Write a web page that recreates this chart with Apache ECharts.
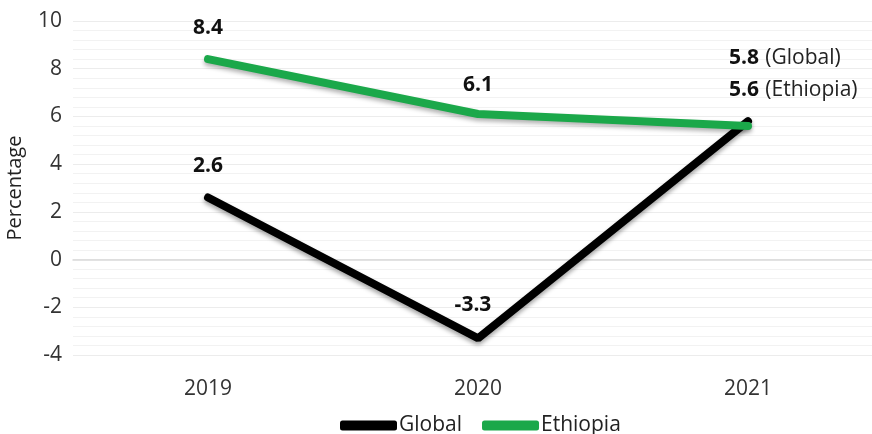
<!DOCTYPE html>
<html>
<head>
<meta charset="utf-8">
<script src="https://cdn.jsdelivr.net/npm/echarts@6/dist/echarts.min.js"></script>
<style>
  html, body { margin: 0; padding: 0; background: #fff; }
  #main { width: 872px; height: 434px; }
</style>
</head>
<body>
<div id="main"></div>
<script>
var years = ['2019', '2020', '2021'];
var globalVals = [2.6, -3.3, 5.8];
var ethiopiaVals = [8.4, 6.1, 5.6];

var myChart = echarts.init(document.getElementById('main'));
var font = 'Open Sans';

// the 2021 labels carry the series name too
function pointLabel(name) {
  return function (p) {
    if (p.dataIndex === years.length - 1) {
      return '{b|' + p.value + '} {n|(' + name + ')}';
    }
    return '{b|' + p.value + '}';
  };
}

var rich = {
  b: { fontFamily: font, fontSize: 21, fontWeight: 'bold', color: '#111' },
  n: { fontFamily: font, fontSize: 21, color: '#222', padding: [0, 0, 0, 3] }
};

var option = {
  grid: { left: 73, width: 810, top: 21, height: 334, outerBoundsMode: 'none' },
  legend: {
    left: 335,
    top: 410,
    itemGap: 20,
    itemWidth: 57,
    itemHeight: 10,
    textStyle: { fontFamily: font, fontSize: 21, color: '#222', padding: [0, 0, 0, -3] },
    data: [
      { name: 'Global', icon: 'roundRect', itemStyle: { color: '#000' } },
      { name: 'Ethiopia', icon: 'roundRect', itemStyle: { color: '#1ba84a' } }
    ]
  },
  xAxis: {
    type: 'category',
    data: years,
    axisLine: { onZero: true, lineStyle: { color: '#d9d9d9', width: 1.5 } },
    axisTick: { show: false },
    axisLabel: { fontFamily: font, fontSize: 21, color: '#333', margin: 24 },
    splitLine: { show: false }
  },
  yAxis: {
    type: 'value',
    min: -4, max: 10, interval: 2,
    name: 'Percentage',
    nameLocation: 'middle',
    nameGap: 48,
    nameTextStyle: { fontFamily: font, fontSize: 20, color: '#222' },
    axisLine: { show: false },
    axisTick: { show: false },
    axisLabel: { fontFamily: font, fontSize: 21, color: '#333', margin: 11 },
    splitLine: { lineStyle: { color: '#ececec', width: 1 } },
    minorTick: { show: false, splitNumber: 5 },
    minorSplitLine: { show: true, lineStyle: { color: '#f2f2f2', width: 1 } }
  },
  series: [{
    name: 'Global',
    type: 'line',
    data: globalVals,
    symbol: 'circle',
    symbolSize: 1,
    showSymbol: true,
    lineStyle: { color: '#000', width: 8, cap: 'round',
      shadowColor: 'rgba(0,0,0,0.35)', shadowBlur: 4, shadowOffsetY: 3 },
    itemStyle: { color: '#000' },
    z: 2,
    label: { show: true, position: 'top', formatter: pointLabel('Global'), rich: rich },
    labelLayout: function (p) {
      if (p.dataIndex === 2) return { x: 729, y: 58, align: 'left', verticalAlign: 'middle' };
      var x = p.rect.x + p.rect.width / 2;
      if (p.dataIndex === 1) return { x: x - 5, y: 305, align: 'center', verticalAlign: 'middle' };
      return { x: x, y: 166, align: 'center', verticalAlign: 'middle' };
    }
  }, {
    name: 'Ethiopia',
    type: 'line',
    data: ethiopiaVals,
    symbol: 'circle',
    symbolSize: 1,
    showSymbol: true,
    lineStyle: { color: '#1ba84a', width: 8, cap: 'round',
      shadowColor: 'rgba(0,0,0,0.3)', shadowBlur: 4, shadowOffsetY: 3 },
    itemStyle: { color: '#1ba84a' },
    z: 3,
    label: { show: true, position: 'top', formatter: pointLabel('Ethiopia'), rich: rich },
    labelLayout: function (p) {
      if (p.dataIndex === 2) return { x: 729, y: 90, align: 'left', verticalAlign: 'middle' };
      var x = p.rect.x + p.rect.width / 2;
      if (p.dataIndex === 1) return { x: x, y: 85, align: 'center', verticalAlign: 'middle' };
      return { x: x, y: 28, align: 'center', verticalAlign: 'middle' };
    }
  }]
};

myChart.setOption(option);
</script>
</body>
</html>
